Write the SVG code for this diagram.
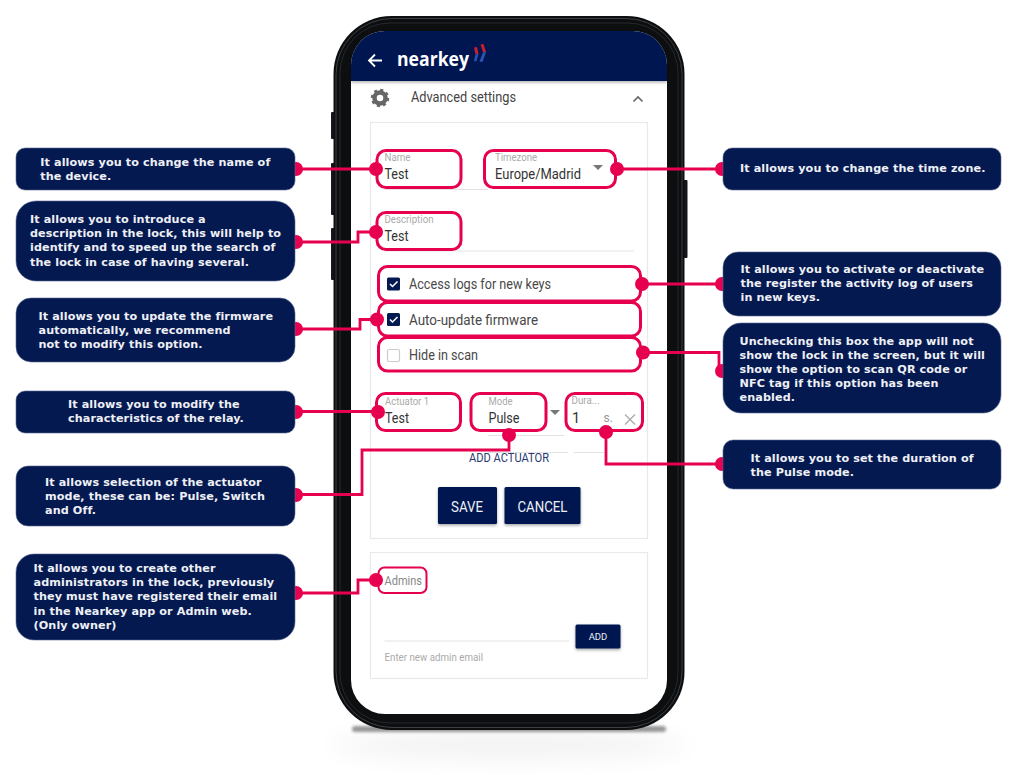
<svg xmlns="http://www.w3.org/2000/svg" width="1016" height="775" viewBox="0 0 1016 775">
<defs>
<filter id="blur" x="-30%" y="-150%" width="160%" height="400%"><feGaussianBlur stdDeviation="12"/></filter>
<filter id="blur2" x="-10%" y="-200%" width="120%" height="500%"><feGaussianBlur stdDeviation="1.800"/></filter>
<filter id="sh" x="-20%" y="-20%" width="140%" height="150%"><feDropShadow dx="0" dy="1.500" stdDeviation="1.500" flood-color="#000" flood-opacity=".35"/></filter>
<filter id="hs" x="-5%" y="-20%" width="110%" height="150%"><feDropShadow dx="0" dy="1.500" stdDeviation="1.500" flood-color="#000" flood-opacity=".3"/></filter>
</defs>
<style>
.b{fill:#051951;stroke:#5a6a92;stroke-width:.6}
.t{font:bold 11.2px "DejaVu Sans",sans-serif;fill:#eef0f5;letter-spacing:.1px}
.c{fill:none;stroke:#e6004f;stroke-width:2.800}
.d{fill:#e6004f}
.h{fill:none;stroke:#e6004f;stroke-width:3}
.u{font-family:"Roboto","Noto Sans",sans-serif}
.l{font-size:10px;fill:#aaa}
.v{font-size:14.500px;fill:#333}
.o{font-size:14px;fill:#484848}
.card{fill:#fff;stroke:#e9e9e9;stroke-width:1.200}
.rule{stroke:#e3e3e3;stroke-width:1}
.btn{fill:#051951;filter:url(#sh)}
.bt{fill:#eef0f5;text-anchor:middle}
</style>
<rect width="1016" height="775" fill="#fff"/>
<g id="phone">
<ellipse cx="510" cy="745" rx="180" ry="14" fill="#000" opacity=".05" filter="url(#blur)"/>
<rect x="352" y="726" width="314" height="6" rx="3" fill="#000" opacity=".4" filter="url(#blur2)"/>
<g fill="#15171a">
<rect x="331" y="112" width="4" height="27" rx="1"/>
<rect x="331" y="163" width="4" height="52" rx="1"/>
<rect x="331" y="228" width="4" height="52" rx="1"/>
<rect x="683.500" y="180" width="4" height="78" rx="1"/>
</g>
<rect x="333.500" y="16" width="351" height="714" rx="58" fill="#0c0e10"/>
<rect x="336" y="18.500" width="346" height="709" rx="56" fill="none" stroke="#3c4044" stroke-width="1"/>
<rect x="340" y="23" width="338" height="700" rx="50" fill="none" stroke="#26292c" stroke-width="1"/>
<rect x="351" y="31" width="316" height="683" rx="34" fill="#fff"/>
<path d="M351 81V65a34 34 0 0 1 34-34H633a34 34 0 0 1 34 34V81Z" fill="#051951" filter="url(#hs)"/>
<path d="M382 60.500H369.500M375 54.500l-6 6 6 6" fill="none" stroke="#fff" stroke-width="1.800"/>
<text x="397" y="66" font-family="Open Sans,sans-serif" font-weight="700" font-size="20" fill="#fff" textLength="72" lengthAdjust="spacingAndGlyphs">nearkey</text>
<path d="M474 47.500l3-.5 1.500 7-3 .5Z" fill="#c8202f"/>
<path d="M475.500 54.500l3-.5-2 7-2.500.5Z" fill="#2a55b5"/>
<path d="M480.500 44.500l3-.5 2.500 8-3 .5Z" fill="#c8202f"/>
<path d="M483 52.500l3-.5-3.500 10-3-.5Z" fill="#2a55b5"/>
<circle cx="380" cy="98" r="5.500" fill="none" stroke="#666" stroke-width="4.500"/>
<circle cx="380" cy="98" r="8" fill="none" stroke="#666" stroke-width="2.500" stroke-dasharray="3 3.280"/>
<text class="u" x="411" y="102" font-size="14" fill="#444" textLength="105" lengthAdjust="spacingAndGlyphs">Advanced settings</text>
<path d="M633.500 101.500l4.500-4.500 4.500 4.500" fill="none" stroke="#666" stroke-width="1.600"/>
<rect class="card" x="370.500" y="122.500" width="277" height="416"/>
<rect class="card" x="370.500" y="552.500" width="277" height="126"/>
<g class="rule">
<line x1="384" y1="189.500" x2="488" y2="189.500"/>
<line x1="384" y1="251" x2="634" y2="251"/>
<line x1="488" y1="435.500" x2="564" y2="435.500"/>
<line x1="488" y1="452.500" x2="568" y2="452.500"/>
<line x1="574" y1="452.500" x2="604" y2="452.500"/>
<line x1="384.500" y1="641" x2="569" y2="641"/>
</g>
</g>
<g id="form" class="u">
<text class="l" x="384.500" y="161" textLength="26" lengthAdjust="spacingAndGlyphs">Name</text>
<text class="v" x="384.500" y="179" textLength="24" lengthAdjust="spacingAndGlyphs">Test</text>
<text class="l" x="495" y="161" textLength="42" lengthAdjust="spacingAndGlyphs">Timezone</text>
<text class="v" x="495" y="179" textLength="86" lengthAdjust="spacingAndGlyphs">Europe/Madrid</text>
<path d="M593 165h10l-5 5Z" fill="#777"/>
<text class="l" x="384.500" y="223" textLength="49" lengthAdjust="spacingAndGlyphs">Description</text>
<text class="v" x="384.500" y="241" textLength="24" lengthAdjust="spacingAndGlyphs">Test</text>
<rect x="387" y="277.500" width="13" height="13" rx="1.500" fill="#051951"/>
<path d="M390 284l2.500 2.500 5-5" fill="none" stroke="#fff" stroke-width="1.500"/>
<text class="o" x="409" y="289" textLength="142" lengthAdjust="spacingAndGlyphs">Access logs for new keys</text>
<rect x="387" y="313" width="13" height="13" rx="1.500" fill="#051951"/>
<path d="M390 319.500l2.500 2.500 5-5" fill="none" stroke="#fff" stroke-width="1.500"/>
<text class="o" x="409" y="324.500" textLength="129" lengthAdjust="spacingAndGlyphs">Auto-update firmware</text>
<rect x="387.500" y="349.500" width="12" height="12" rx="1.500" fill="#fff" stroke="#ccc" stroke-width="1.200"/>
<text class="o" x="409" y="360" textLength="69" lengthAdjust="spacingAndGlyphs">Hide in scan</text>
<text class="l" x="385" y="405" textLength="44" lengthAdjust="spacingAndGlyphs">Actuator 1</text>
<text class="v" x="385" y="423" textLength="24" lengthAdjust="spacingAndGlyphs">Test</text>
<text class="l" x="488.500" y="405" textLength="24" lengthAdjust="spacingAndGlyphs">Mode</text>
<text class="v" x="488.500" y="423" textLength="31" lengthAdjust="spacingAndGlyphs">Pulse</text>
<path d="M550 410h10l-5 5Z" fill="#777"/>
<text class="l" x="571.500" y="404" textLength="28" lengthAdjust="spacingAndGlyphs">Dura...</text>
<text class="v" x="572" y="423">1</text>
<text x="603.500" y="422" font-size="12" fill="#999">s.</text>
<path d="M625 414.500l10 10M635 414.500l-10 10" stroke="#aaa" stroke-width="1.300" fill="none"/>
<text x="469" y="462" font-size="12" fill="#2a3a72" textLength="80" lengthAdjust="spacingAndGlyphs">ADD ACTUATOR</text>
<rect class="btn" x="438" y="487" width="59" height="37" rx="1.500"/>
<text x="451" y="511.500" font-size="15" fill="#eef0f5" textLength="32" lengthAdjust="spacingAndGlyphs">SAVE</text>
<rect class="btn" x="504.500" y="487" width="76" height="37" rx="1.500"/>
<text x="517.500" y="511.500" font-size="15" fill="#eef0f5" textLength="50" lengthAdjust="spacingAndGlyphs">CANCEL</text>
<text x="384.500" y="585" font-size="13" fill="#888" textLength="37.500" lengthAdjust="spacingAndGlyphs">Admins</text>
<rect class="btn" x="575.500" y="624.500" width="45" height="24" rx="1.500"/>
<text class="bt" x="598" y="640" font-size="9.500">ADD</text>
<text x="384.500" y="661" font-size="10.500" fill="#aaa" textLength="98.500" lengthAdjust="spacingAndGlyphs">Enter new admin email</text>
</g>
<g id="connectors">
<path class="c" d="M295 169H376"/>
<path class="c" d="M295 242H358V232H376"/>
<path class="c" d="M295 329H360V319.500H377"/>
<path class="c" d="M295 411.500H378"/>
<path class="c" d="M295 494.500H362V450H509V435"/>
<path class="c" d="M295 593H358V580H376"/>
<path class="c" d="M617 169H723"/>
<path class="c" d="M642 284H723"/>
<path class="c" d="M643 352.500H719V371H723"/>
<path class="c" d="M606 432V464H723"/>
<g class="d">
<circle cx="296" cy="169" r="7"/><circle cx="296" cy="242" r="7"/><circle cx="296" cy="329" r="7"/><circle cx="296" cy="412" r="7"/><circle cx="296" cy="495" r="7"/><circle cx="296" cy="593" r="7"/>
<circle cx="722" cy="169" r="7"/><circle cx="722" cy="284" r="7"/><circle cx="722" cy="371" r="7"/><circle cx="722" cy="464" r="7"/>
</g>
</g>
<g id="highlights">
<rect class="h" x="377" y="150.500" width="84" height="37" rx="9"/>
<rect class="h" x="484.500" y="150.500" width="131" height="37" rx="9"/>
<rect class="h" x="377" y="212.500" width="84" height="37" rx="9"/>
<rect class="h" x="378.500" y="266.500" width="262" height="34.500" rx="9"/>
<rect class="h" x="378.500" y="302.500" width="262" height="33.500" rx="9"/>
<rect class="h" x="378.500" y="337.500" width="262" height="33.500" rx="9"/>
<rect class="h" x="376.500" y="393.500" width="84" height="37" rx="9"/>
<rect class="h" x="471" y="393.500" width="75" height="37" rx="9"/>
<rect class="h" x="566" y="393.500" width="76.500" height="37" rx="9"/>
<rect x="378.500" y="567.500" width="48" height="25.500" rx="6" fill="none" stroke="#e6004f" stroke-width="2"/>
<g class="d">
<circle cx="376" cy="169" r="7"/><circle cx="376" cy="232" r="7"/><circle cx="377" cy="319.500" r="7"/><circle cx="378" cy="412" r="7"/><circle cx="509" cy="435" r="7"/><circle cx="376" cy="580" r="7"/>
<circle cx="617" cy="169" r="7"/><circle cx="642" cy="284" r="7"/><circle cx="643" cy="352.500" r="7"/><circle cx="606" cy="432" r="7"/>
</g>
</g>
<g id="note-name"><rect class="b" x="16" y="148" width="279" height="42" rx="9"/><text class="t" x="40.300"><tspan x="40.300" y="166">It allows you to change the name of</tspan><tspan x="40.300" y="180.200">the device.</tspan></text></g>
<g id="note-description"><rect class="b" x="16" y="201" width="279" height="80" rx="20"/><text class="t"><tspan x="30" y="223">It allows you to introduce a</tspan><tspan x="30" y="237.200">description in the lock, this will help to</tspan><tspan x="30" y="251.400">identify and to speed up the search of</tspan><tspan x="30" y="265.600">the lock in case of having several.</tspan></text></g>
<g id="note-firmware"><rect class="b" x="16" y="298" width="279" height="64" rx="15"/><text class="t"><tspan x="38.500" y="319.500">It allows you to update the firmware</tspan><tspan x="38.500" y="333.700">automatically, we recommend</tspan><tspan x="38.500" y="347.900">not to modify this option.</tspan></text></g>
<g id="note-relay"><rect class="b" x="16" y="391" width="279" height="42" rx="9"/><text class="t"><tspan x="68" y="408">It allows you to modify the</tspan><tspan x="68" y="422.200">characteristics of the relay.</tspan></text></g>
<g id="note-mode"><rect class="b" x="16" y="466" width="279" height="60" rx="12"/><text class="t"><tspan x="45" y="486">It allows selection of the actuator</tspan><tspan x="45" y="500.200">mode, these can be: Pulse, Switch</tspan><tspan x="45" y="514.400">and Off.</tspan></text></g>
<g id="note-admins"><rect class="b" x="16" y="554" width="279" height="86" rx="18"/><text class="t"><tspan x="33.500" y="572">It allows you to create other</tspan><tspan x="33.500" y="586.200">administrators in the lock, previously</tspan><tspan x="33.500" y="600.400">they must have registered their email</tspan><tspan x="33.500" y="614.600">in the Nearkey app or Admin web.</tspan><tspan x="33.500" y="628.800">(Only owner)</tspan></text></g>
<g id="note-timezone"><rect class="b" x="723" y="148" width="278" height="42" rx="9"/><text class="t" x="740" y="172">It allows you to change the time zone.</text></g>
<g id="note-logs"><rect class="b" x="723" y="252" width="278" height="64" rx="15"/><text class="t"><tspan x="740.500" y="273">It allows you to activate or deactivate</tspan><tspan x="740.500" y="287.200">the register the activity log of users</tspan><tspan x="740.500" y="301.400">in new keys.</tspan></text></g>
<g id="note-hide"><rect class="b" x="723" y="323" width="278" height="90" rx="18"/><text class="t"><tspan x="739.500" y="344.500">Unchecking this box the app will not</tspan><tspan x="739.500" y="358.700">show the lock in the screen, but it will</tspan><tspan x="739.500" y="372.900">show the option to scan QR code or</tspan><tspan x="739.500" y="387.100">NFC tag if this option has been</tspan><tspan x="739.500" y="401.300">enabled.</tspan></text></g>
<g id="note-duration"><rect class="b" x="723" y="440" width="278" height="49" rx="10"/><text class="t"><tspan x="750.500" y="462">It allows you to set the duration of</tspan><tspan x="750.500" y="476.200">the Pulse mode.</tspan></text></g>
</svg>
